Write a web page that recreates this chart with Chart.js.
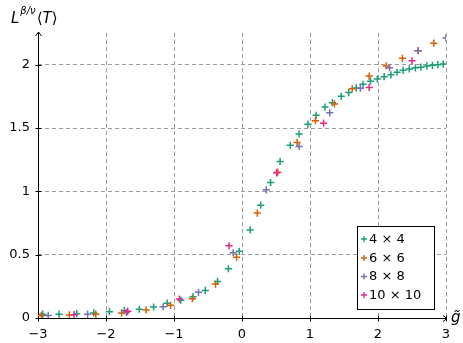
<!DOCTYPE html>
<html>
<head>
<meta charset="utf-8">
<script src="https://cdn.jsdelivr.net/npm/chart.js@4.4.1/dist/chart.umd.min.js"></script>
<style>
  html, body { margin: 0; padding: 0; background: #ffffff; }
  #wrap { width: 463px; height: 343px; }
</style>
</head>
<body>
<div id="wrap"><canvas id="c" width="463" height="343"></canvas></div>
<script>
// Axis ticks
const xTicks = [-3, -2, -1, 0, 1, 2, 3];
const yTicks = [0, 0.5, 1, 1.5, 2];

// Lattice sizes
const seriesLabels = ['4 × 4', '6 × 6', '8 × 8', '10 × 10'];
const seriesColors = ['#1b9e77', '#d95f02', '#7570b3', '#e7298a'];

// 4 x 4
const g4 = [-2.93, -2.69, -2.43, -2.18, -1.95, -1.73, -1.51, -1.30, -1.10, -0.90, -0.72, -0.54, -0.36, -0.20, -0.04,
            0.12, 0.275, 0.42, 0.56, 0.71, 0.84, 0.97, 1.09, 1.22, 1.33, 1.46, 1.57, 1.68, 1.78, 1.89, 1.99,
            2.09, 2.19, 2.28, 2.37, 2.46, 2.55, 2.63, 2.72, 2.80, 2.88, 2.96];
const t4 = [0.03, 0.03, 0.034, 0.04, 0.05, 0.058, 0.069, 0.087, 0.117, 0.14, 0.168, 0.218, 0.289, 0.389, 0.526,
            0.695, 0.891, 1.07, 1.236, 1.364, 1.453, 1.53, 1.60, 1.665, 1.70, 1.75, 1.78, 1.816, 1.845, 1.87, 1.887,
            1.905, 1.92, 1.94, 1.955, 1.966, 1.975, 1.98, 1.99, 1.995, 2.0, 2.005];

// 6 x 6
const g6 = [-2.95, -2.54, -2.15, -1.77, -1.41, -1.05, -0.73, -0.39, -0.08, 0.225, 0.525, 0.81, 1.08, 1.36, 1.62,
            1.87, 2.12, 2.36, 2.59, 2.82];
const t6 = [0.02, 0.024, 0.03, 0.04, 0.063, 0.10, 0.152, 0.268, 0.48, 0.828, 1.151, 1.386, 1.558, 1.69, 1.81,
            1.91, 1.99, 2.05, 2.11, 2.17];

// 8 x 8
const g8 = [-2.85, -2.27, -1.70, -1.16, -0.64, -0.13, 0.357, 0.84, 1.29, 1.74, 2.17, 2.59, 3.0];
const t8 = [0.02, 0.03, 0.045, 0.089, 0.203, 0.515, 1.012, 1.354, 1.62, 1.814, 1.976, 2.11, 2.21];

// 10 x 10
const g10 = [-2.47, -1.68, -0.92, -0.19, 0.51, 1.20, 1.87, 2.50];
const t10 = [0.026, 0.053, 0.15, 0.57, 1.146, 1.538, 1.82, 2.03];

const seriesX = [g4, g6, g8, g10];
const seriesY = [t4, t6, t8, t10];

const FONT = 'DejaVu Sans';
const minus = v => String(v).replace('-', '\u2212');

const datasets = seriesX.map((xs, i) => ({
  label: seriesLabels[i],
  data: xs.map((x, k) => ({ x: x, y: seriesY[i][k] })),
  pointStyle: 'cross',
  pointRadius: 3.6,
  pointHoverRadius: 3.6,
  borderWidth: 1.5,
  pointBorderWidth: 1.5,
  borderColor: seriesColors[i],
  backgroundColor: seriesColors[i],
  showLine: false,
  order: seriesX.length - i
}));

// Axis lines with arrow heads and small crossing ticks
const axesPlugin = {
  id: 'axesLines',
  beforeDatasetsDraw(chart) {
    const { ctx, chartArea: a, scales } = chart;
    ctx.save();
    ctx.strokeStyle = '#000';
    ctx.lineWidth = 1;
    ctx.setLineDash([]);
    const by = Math.round(a.bottom) + 0.5;
    const lx = Math.round(a.left) + 0.5;
    // x axis
    ctx.beginPath();
    ctx.moveTo(lx, by); ctx.lineTo(a.right + 1, by);
    ctx.stroke();
    ctx.beginPath();
    ctx.moveTo(a.right - 3, by - 3); ctx.lineTo(a.right + 1, by); ctx.lineTo(a.right - 3, by + 3);
    ctx.stroke();
    // y axis
    ctx.beginPath();
    ctx.moveTo(lx, by); ctx.lineTo(lx, a.top - 1);
    ctx.stroke();
    ctx.beginPath();
    ctx.moveTo(lx - 3, a.top + 3); ctx.lineTo(lx, a.top - 1); ctx.lineTo(lx + 3, a.top + 3);
    ctx.stroke();
    // ticks
    xTicks.forEach(v => {
      const px = Math.round(scales.x.getPixelForValue(v)) + 0.5;
      ctx.beginPath(); ctx.moveTo(px, by - 3); ctx.lineTo(px, by + 3); ctx.stroke();
    });
    yTicks.forEach(v => {
      const py = Math.round(scales.y.getPixelForValue(v)) + 0.5;
      ctx.beginPath(); ctx.moveTo(lx - 3, py); ctx.lineTo(lx + 3, py); ctx.stroke();
    });
    ctx.restore();
  }
};

// Axis titles and boxed legend inside the plot
const labelsPlugin = {
  id: 'labelsAndLegend',
  afterDraw(chart) {
    const { ctx } = chart;
    ctx.save();
    ctx.fillStyle = '#000';
    ctx.textBaseline = 'alphabetic';
    ctx.textAlign = 'left';
    // y title: L^{beta/nu} <T>
    let x = 11;
    ctx.font = 'italic 15px "' + FONT + '"';
    ctx.fillText('L', x, 23);
    x += ctx.measureText('L').width + 1;
    ctx.font = 'italic 10px "' + FONT + '"';
    ctx.fillText('β/ν', x, 14);
    x += ctx.measureText('β/ν').width + 1;
    ctx.font = '15px "' + FONT + '"';
    ctx.fillText('⟨', x, 23);
    x += ctx.measureText('⟨').width;
    ctx.font = 'italic 15px "' + FONT + '"';
    ctx.fillText('T', x, 23);
    x += ctx.measureText('T').width;
    ctx.font = '15px "' + FONT + '"';
    ctx.fillText('⟩', x, 23);
    // x title: g tilde
    ctx.font = 'italic 15px "' + FONT + '"';
    ctx.fillText('g\u0303', 451, 322);

    // legend
    const bx = 357.5, bw = 77, byTop = 226.5, bh = 83;
    ctx.fillStyle = '#fff';
    ctx.fillRect(bx, byTop, bw, bh);
    ctx.strokeStyle = '#000';
    ctx.lineWidth = 1;
    ctx.strokeRect(bx, byTop, bw, bh);
    const rows = [239, 258, 276.5, 295];
    ctx.font = '13px "' + FONT + '"';
    ctx.textBaseline = 'middle';
    seriesLabels.forEach((lab, i) => {
      const cy = rows[i];
      ctx.strokeStyle = seriesColors[i];
      ctx.lineWidth = 1.4;
      ctx.beginPath();
      ctx.moveTo(361, cy); ctx.lineTo(367, cy);
      ctx.moveTo(364, cy - 3); ctx.lineTo(364, cy + 3);
      ctx.stroke();
      ctx.fillStyle = '#000';
      ctx.fillText(lab, 369, cy + 0.5);
    });
    ctx.restore();
  }
};

new Chart(document.getElementById('c'), {
  type: 'scatter',
  data: { datasets: datasets },
  options: {
    responsive: false,
    animation: false,
    events: [],
    layout: { padding: { left: 0, right: 17, top: 33, bottom: 0 } },
    plugins: { legend: { display: false }, tooltip: { enabled: false } },
    scales: {
      x: {
        type: 'linear',
        min: -3, max: 3,
        afterBuildTicks: s => { s.ticks = xTicks.map(v => ({ value: v })); },
        afterFit: s => { s.height = 25; },
        grid: { color: '#9c9c9c', lineWidth: 1, drawTicks: false },
        border: { display: false, dash: [4, 3] },
        ticks: {
          font: { family: FONT, size: 13 },
          color: '#000',
          padding: 9,
          maxRotation: 0,
          autoSkip: false,
          callback: v => minus(v)
        }
      },
      y: {
        type: 'linear',
        min: 0, max: 2.25,
        afterBuildTicks: s => { s.ticks = yTicks.map(v => ({ value: v })); },
        afterFit: s => { s.width = 38; },
        grid: { color: '#9c9c9c', lineWidth: 1, drawTicks: false },
        border: { display: false, dash: [4, 3] },
        ticks: {
          font: { family: FONT, size: 13 },
          color: '#000',
          padding: 8,
          autoSkip: false,
          callback: v => minus(v)
        }
      }
    }
  },
  plugins: [axesPlugin, labelsPlugin]
});
</script>
</body>
</html>
